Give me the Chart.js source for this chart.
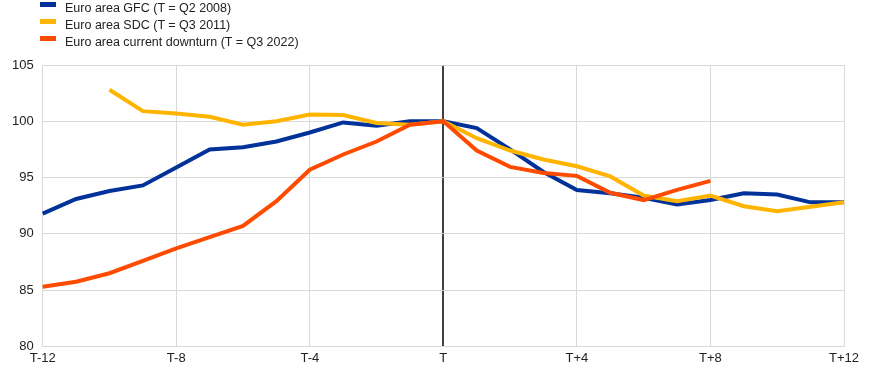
<!DOCTYPE html>
<html>
<head>
<meta charset="utf-8">
<script src="https://cdn.jsdelivr.net/npm/chart.js@4/dist/chart.umd.min.js"></script>
<style>
    html, body { margin: 0; padding: 0; background: #fff; }
    #wrap { position: relative; width: 874px; height: 373px; }
    #legend { position: absolute; left: 40px; top: 1px; font-family: 'Liberation Sans', Arial, sans-serif; font-size: 12.5px; color: #222; }
    .item { height: 17px; line-height: 15px; white-space: nowrap; }
    .swatch { display: inline-block; width: 16px; height: 5px; margin-right: 9px; vertical-align: 5px; }
</style>
</head>
<body>
<div id="wrap">
    <canvas id="chart" width="874" height="373"></canvas>
    <div id="legend"></div>
</div>
<script>
const periods = ['T-12', 'T-11', 'T-10', 'T-9', 'T-8', 'T-7', 'T-6', 'T-5', 'T-4', 'T-3', 'T-2', 'T-1', 'T',
    'T+1', 'T+2', 'T+3', 'T+4', 'T+5', 'T+6', 'T+7', 'T+8', 'T+9', 'T+10', 'T+11', 'T+12'];

const gfc = [91.8, 93.1, 93.8, 94.3, 95.9, 97.5, 97.7, 98.2, 99.0, 99.9, 99.6, 100.0, 100.0,
    99.4, 97.5, 95.5, 93.9, 93.6, 93.2, 92.6, 93.0, 93.6, 93.5, 92.8, 92.8];
const sdc = [null, null, 102.8, 100.9, 100.7, 100.4, 99.7, 100.0, 100.6, 100.55, 99.85, 99.7, 100.0,
    98.5, 97.4, 96.6, 96.0, 95.1, 93.4, 92.9, 93.4, 92.45, 92.0, 92.4, 92.8];
const current = [85.3, 85.75, 86.5, 87.6, 88.7, 89.7, 90.7, 92.9, 95.7, 97.05, 98.2, 99.7, 100.0,
    97.4, 95.95, 95.4, 95.15, 93.65, 93.0, 93.9, 94.7, null, null, null, null];

const seriesNames = ['Euro area GFC (T = Q2 2008)', 'Euro area SDC (T = Q3 2011)', 'Euro area current downturn (T = Q3 2022)'];
const colors = ['#003299', '#FFB400', '#FF4B00'];

// html legend, stacked like the original
const legend = document.getElementById('legend');
seriesNames.forEach((name, i) => {
    const row = document.createElement('div');
    row.className = 'item';
    row.innerHTML = '<span class="swatch" style="background:' + colors[i] + '"></span>' + name;
    legend.appendChild(row);
});

const fontFamily = "'Liberation Sans', Arial, sans-serif";

new Chart(document.getElementById('chart'), {
    type: 'line',
    data: {
        labels: periods,
        datasets: [gfc, sdc, current].map((values, i) => ({
            label: seriesNames[i],
            data: values,
            borderColor: colors[i],
            backgroundColor: colors[i],
            borderWidth: 4,
            pointRadius: 0,
            tension: 0,
            spanGaps: false,
            order: i === 2 ? 0 : (i === 0 ? 2 : 1)
        }))
    },
    options: {
        responsive: false,
        animation: false,
        layout: { padding: { top: 65, right: 30, left: 3, bottom: 3 } },
        plugins: {
            legend: { display: false },
            tooltip: { enabled: false }
        },
        scales: {
            x: {
                ticks: {
                    autoSkip: false,
                    maxRotation: 0,
                    color: '#222',
                    font: { family: fontFamily, size: 13 },
                    padding: 4,
                    callback: function(value, index) {
                        return index % 4 === 0 ? periods[index] : '';
                    }
                },
                grid: {
                    drawTicks: false,
                    color: ctx => {
                        if (ctx.index === 12) return '#404040';
                        return ctx.index % 4 === 0 ? '#d9d9d9' : 'rgba(0,0,0,0)';
                    },
                    lineWidth: ctx => ctx.index === 12 ? 2 : 1
                },
                border: { color: '#d9d9d9' }
            },
            y: {
                min: 80,
                max: 105,
                ticks: {
                    stepSize: 5,
                    color: '#222',
                    font: { family: fontFamily, size: 13 },
                    padding: 9
                },
                grid: { drawTicks: false, color: '#d9d9d9' },
                border: { color: '#d9d9d9' }
            }
        }
    }
});
</script>
</body>
</html>
